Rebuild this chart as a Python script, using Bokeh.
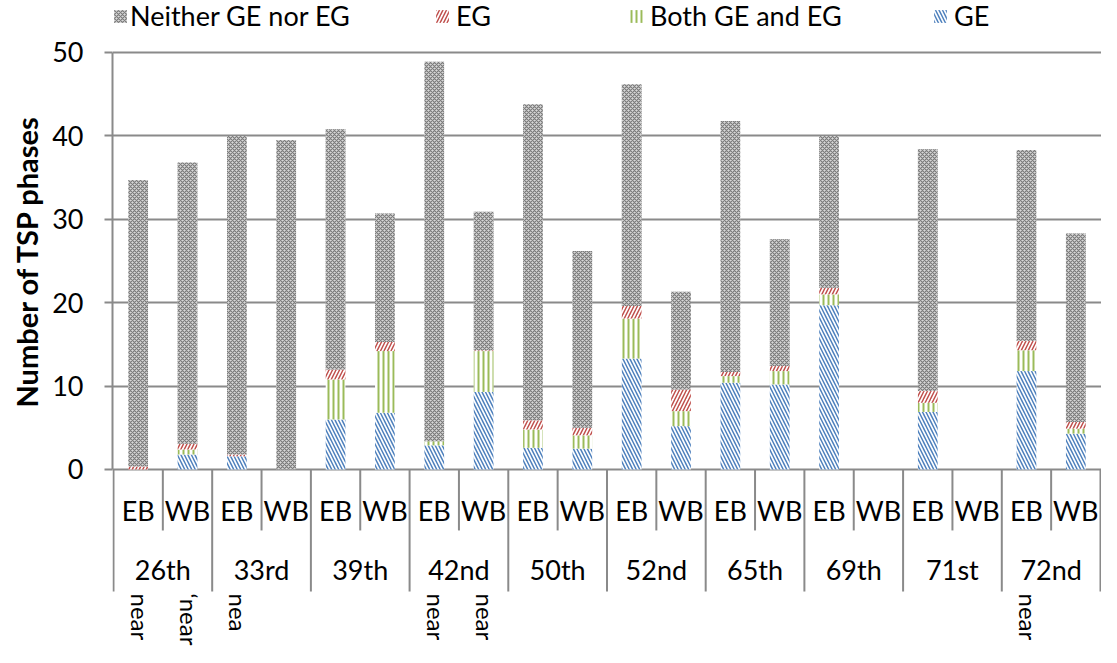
import math
from bokeh.plotting import figure
from bokeh.models import (Range1d, FixedTicker, Legend, LegendItem, ColumnDataSource, Title)
from bokeh.core.properties import value
from bokeh.embed import file_html
from bokeh.resources import INLINE

# ---------------- data ----------------
streets = ["26th", "33rd", "39th", "42nd", "50th", "52nd", "65th", "69th", "71st", "72nd"]
directions = ["EB", "WB"]
# order of bars: 26th EB, 26th WB, 33rd EB, 33rd WB, ...
ge      = [0.0, 1.8, 1.6, 0.0, 6.0, 6.8, 2.9, 9.3, 2.6, 2.5,
           13.3, 5.2, 10.4, 10.2, 19.7, 0.0, 6.9, 0.0, 11.8, 4.3]
both    = [0.0, 0.6, 0.0, 0.0, 4.8, 7.4, 0.5, 4.9, 2.2, 1.6,
           4.8, 1.8, 0.8, 1.6, 1.3, 0.0, 1.1, 0.0, 2.5, 0.6]
eg      = [0.35, 0.7, 0.2, 0.0, 1.2, 1.1, 0.0, 0.1, 1.1, 0.9,
           1.5, 2.6, 0.5, 0.6, 0.8, 0.0, 1.4, 0.0, 1.1, 0.8]
neither = [34.35, 33.7, 38.2, 39.5, 28.8, 15.4, 45.5, 16.6, 37.9, 21.2,
           26.6, 11.7, 30.1, 15.2, 18.2, 0.0, 29.0, 0.0, 22.9, 22.6]
side_notes = ["near", "\u2018near", "nea", "", "", "", "near", "near", "", "",
              "", "", "", "", "", "", "", "", "near", ""]
y_ticks = [0, 10, 20, 30, 40, 50]
legend_order = ["Neither GE nor EG", "EG", "Both GE and EG", "GE"]

# ---------------- derived positions ----------------
n = len(streets) * len(directions)
slot_pos = [i + 0.5 for i in range(n)]                     # one slot per (street, dir)
dir_labels = [d for s in streets for d in directions]
street_pos = [2 * i + 1.0 for i in range(len(streets))]
sub_edges = [i for i in range(1, n, 2)]
grp_edges = [i for i in range(0, n + 1, 2)]

src = ColumnDataSource(dict(x=slot_pos, GE=ge, Both=both, EG=eg, Neither=neither))

FONT = value("Lato")
GRAY = "#8a8a8a"
W, H = 1101, 647
LEFT = 111
SLOT_PX = 49.4

styles = {
    "GE": dict(fill_color="white", hatch_pattern="left_diagonal_line",
               hatch_color="#4f81bd", hatch_scale=7, hatch_weight=1.5),
    "Both GE and EG": dict(fill_color="white", hatch_pattern="vertical_line",
                           hatch_color="#9bbb59", hatch_scale=5, hatch_weight=2),
    "EG": dict(fill_color="white", hatch_pattern="right_diagonal_line",
               hatch_color="#c0504d", hatch_scale=7, hatch_weight=1.5),
    "Neither GE nor EG": dict(fill_color="#d8d8d8", hatch_pattern="diagonal_cross",
                              hatch_color="#7a7a7a", hatch_scale=4, hatch_weight=1.2),
}
stack_names = ["GE", "Both GE and EG", "EG", "Neither GE nor EG"]

p = figure(width=W, height=H,
           x_range=Range1d(-0.02, -0.02 + (W - LEFT) / SLOT_PX),
           y_range=Range1d(-21.343, 56.235),
           output_backend="svg", toolbar_location=None, x_axis_location=None,
           min_border_left=LEFT, min_border_right=0, min_border_top=0,
           min_border_bottom=0, outline_line_color=None)

rs = p.vbar_stack(["GE", "Both", "EG", "Neither"], x="x", width=0.4, source=src,
                  line_color=None,
                  fill_color=[styles[k]["fill_color"] for k in stack_names],
                  hatch_pattern=[styles[k]["hatch_pattern"] for k in stack_names],
                  hatch_color=[styles[k]["hatch_color"] for k in stack_names],
                  hatch_scale=[styles[k]["hatch_scale"] for k in stack_names],
                  hatch_weight=[styles[k]["hatch_weight"] for k in stack_names])
ren_for = dict(zip(stack_names, rs))

# legend: one box per entry to reproduce the uneven spacing
legend_x = [0, 322, 516, 820]
legend_standoff = [2, 6, 6, 6]
for lab, lx, so in zip(legend_order, legend_x, legend_standoff):
    lg = Legend(items=[LegendItem(label=lab, renderers=[ren_for[lab]])],
                location=(lx, 615), orientation="horizontal",
                glyph_width=16, glyph_height=16, label_standoff=so,
                padding=0, margin=0, spacing=0, border_line_color=None,
                background_fill_alpha=0, label_text_font="Lato",
                label_text_font_size="27px", label_text_color="#000000")
    p.add_layout(lg)

# y axis
p.yaxis.ticker = FixedTicker(ticks=y_ticks)
p.yaxis.bounds = (0, 50)
p.yaxis.major_label_text_font = "Lato"
p.yaxis.major_label_text_font_size = "27px"
p.yaxis.major_label_text_color = "#000000"
p.yaxis.major_label_standoff = 21
p.yaxis.axis_line_color = GRAY
p.yaxis.axis_line_width = 2
p.yaxis.major_tick_line_color = GRAY
p.yaxis.major_tick_line_width = 2
p.yaxis.major_tick_out = 8
p.yaxis.major_tick_in = 0
p.yaxis.minor_tick_line_color = None

ytitle = Title(text="Number of TSP phases", align="left", offset=240,
               text_font="Lato", text_font_style="bold", text_font_size="29px",
               text_color="#000000", standoff=12)
p.add_layout(ytitle, "left")

p.xgrid.visible = False
p.ygrid.grid_line_color = GRAY
p.ygrid.grid_line_width = 2

# category axis below zero
p.segment(x0=sub_edges, y0=0, x1=sub_edges, y1=-7.31, line_color=GRAY, line_width=2)
p.segment(x0=grp_edges, y0=0, x1=grp_edges, y1=-14.63, line_color=GRAY, line_width=2)
p.text(x=slot_pos, y=[-4.9] * n, text=dir_labels, text_align="center",
       text_baseline="middle", text_font=FONT, text_font_size="27px", text_color="#000000")
p.text(x=street_pos, y=[-12.05] * len(streets), text=streets, text_align="center",
       text_baseline="middle", text_font=FONT, text_font_size="27px", text_color="#000000")
p.text(x=slot_pos, y=[-14.87] * n, text=side_notes, angle=-math.pi / 2, text_align="left",
       text_baseline="middle", x_offset=2, text_font=FONT, text_font_size="24px",
       text_color="#000000")

open("out.html", "w").write(file_html(p, INLINE))
